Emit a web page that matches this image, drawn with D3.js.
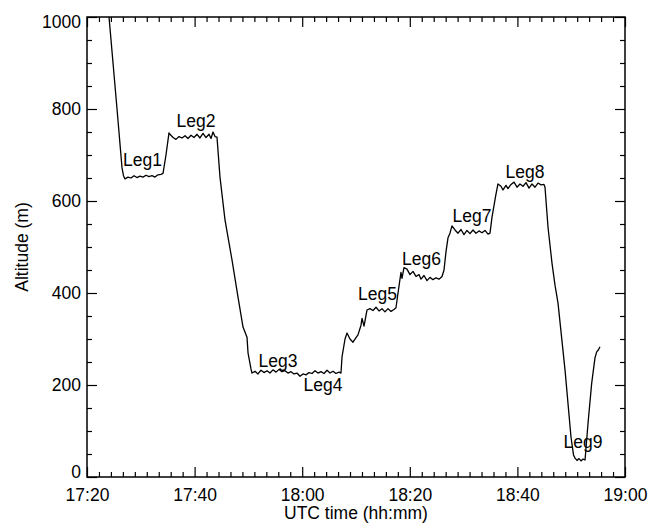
<!DOCTYPE html>
<html>
<head>
<meta charset="utf-8">
<script src="https://cdn.jsdelivr.net/npm/d3@7"></script>
<style>
  html, body { margin: 0; padding: 0; background: #fff; }
  svg { display: block; }
  text { font-family: "Liberation Sans", Arial, Helvetica, sans-serif; fill: #000; }
</style>
</head>
<body>
<svg id="chart" width="660" height="523"></svg>
<script>
// ---- data: minutes after 17:00 UTC, altitude in metres ----
const minutes = [
  23.90, 25.58, 26.51, 26.78, 27.06, 27.62, 28.18, 28.74, 29.29, 29.85, 30.41, 30.97, 31.52, 32.08, 32.64, 33.20, 33.75, 34.13,
  34.68, 35.24, 35.43,
  35.99, 36.54, 37.10, 37.66, 38.22, 38.77, 39.33, 39.89, 40.45, 41.00, 41.56, 42.12, 42.68, 43.05, 43.42, 43.79,
  44.16, 44.72, 45.65, 46.95, 48.07, 49.00, 49.74, 49.93, 50.48, 50.67,
  51.23, 51.78, 52.34, 52.90, 53.46, 54.01, 54.57, 55.13, 55.69, 56.25, 56.80, 57.36, 57.92, 58.48, 59.03, 59.59, 60.15, 60.71,
  61.26, 61.82, 62.38, 62.94, 63.49, 64.05, 64.61, 65.17, 65.72, 66.28, 66.84, 67.21,
  67.40, 67.96, 68.33, 68.88, 69.44, 70.00, 70.37, 70.93, 71.12, 71.49, 72.04,
  72.60, 73.16, 73.72, 74.28, 74.83, 75.39, 75.95, 76.51, 77.06, 77.43,
  77.81, 78.18, 78.36, 78.55, 78.92,
  79.48, 80.04, 80.59, 81.15, 81.71, 82.08, 82.64, 83.20, 83.75, 84.31, 84.87, 85.43, 85.99,
  86.36, 86.73, 87.10, 87.47, 87.84,
  88.40, 88.96, 89.52, 90.07, 90.63, 91.19, 91.75, 92.30, 92.86, 93.42, 93.98, 94.54, 94.91,
  95.28, 95.65, 96.02, 96.39,
  96.95, 97.32, 97.88, 98.25, 98.81, 99.37, 99.93, 100.48, 101.04, 101.60, 102.16, 102.71, 103.27, 103.83, 104.39, 104.94,
  105.13, 105.69, 106.43, 106.99, 107.55, 108.85, 109.96, 110.43, 110.71,
  111.08, 111.45, 111.82, 112.19, 112.57,
  113.18, 113.81, 114.42, 114.74, 115.04, 115.35
];
const altitude = [
  1026, 800, 672, 655, 648, 652, 650, 655, 651, 654, 652, 656, 653, 655, 652, 657, 658, 660,
  700, 748, 745,
  738, 734, 740, 737, 742, 736, 743, 738, 745, 737, 747, 738, 745, 736, 750, 740,
  739, 652, 559, 472, 391, 326, 304, 270, 235, 226,
  230, 224, 232, 227, 231, 226, 233, 228, 234, 229, 231, 226, 229, 224, 226, 219, 224, 222,
  227, 225, 231, 226, 229, 225, 232, 226, 230, 225, 228, 226,
  261, 300, 313, 300, 293, 303, 309, 330, 345, 328, 363,
  366, 362, 369, 361, 366, 359, 366, 360, 364, 368,
  400, 430, 445, 432, 455,
  452, 440, 447, 436, 440, 430, 438, 427, 434, 429, 433, 430, 436,
  450, 490, 520, 530, 546,
  537, 530, 538, 527, 536, 529, 537, 530, 535, 531, 536, 528, 530,
  565, 590, 615, 637,
  632, 624, 634, 627, 636, 641, 630, 637, 632, 640, 628, 637, 630, 639, 635, 636,
  630, 543, 465, 417, 378, 233, 87, 48, 41,
  36, 40, 35, 39, 37,
  124, 204, 259, 272, 276, 283
];

// leg annotations (minutes after 17:00, altitude of text baseline)
const legNames   = ["Leg1", "Leg2", "Leg3", "Leg4", "Leg5", "Leg6", "Leg7", "Leg8", "Leg9"];
const legMinutes = [30.32, 40.26, 55.50, 63.87, 74.00, 82.17, 91.56, 101.41, 112.19];
const legAlts    = [676, 760, 240, 188, 385, 461, 555, 650, 62];

// axes
const xTickLabels = ["17:20", "17:40", "18:00", "18:20", "18:40", "19:00"];
const yTickValues = [0, 200, 400, 600, 800, 1000];
const xTitle = "UTC time (hh:mm)";
const yTitle = "Altitude (m)";

// ---- layout ----
const W = 660, H = 523;
const margin = { left: 87, right: 35, top: 17, bottom: 46 };
const iw = W - margin.left - margin.right;
const ih = H - margin.top - margin.bottom;

const toDate = m => new Date(2000, 0, 1, 17, 0, 0, Math.round(m * 60000));
const parseHM = s => { const [h, mm] = s.split(":").map(Number); return new Date(2000, 0, 1, h, mm); };

const majorDates = xTickLabels.map(parseHM);
const minorDates = [];
for (let i = 0; i < majorDates.length - 1; i++) {
  const a = +majorDates[i], b = +majorDates[i + 1];
  for (let k = 1; k < 9; k++) minorDates.push(new Date(a + (b - a) * k / 9));
}
const yMinor = d3.range(0, 1001, 50).filter(v => v % 200 !== 0);

const x = d3.scaleTime().domain([majorDates[0], majorDates[majorDates.length - 1]]).range([0, iw]);
const y = d3.scaleLinear().domain([0, 1000]).range([ih, 0]);

const svg = d3.select("#chart");
const g = svg.append("g").attr("transform", `translate(${margin.left},${margin.top})`);

g.append("defs").append("clipPath").attr("id", "clip")
  .append("rect").attr("width", iw).attr("height", ih);

// data line
const pts = minutes.map((m, i) => ({ t: toDate(m), a: altitude[i] }));
g.append("path")
  .datum(pts)
  .attr("clip-path", "url(#clip)")
  .attr("fill", "none")
  .attr("stroke", "#000")
  .attr("stroke-width", 1.3)
  .attr("stroke-linejoin", "round")
  .attr("d", d3.line().x(d => x(d.t)).y(d => y(d.a)));

// axes helper
function styleAxis(sel) {
  sel.select(".domain").remove();
  sel.selectAll(".tick line").attr("stroke", "#000").attr("stroke-width", 1.2);
  sel.selectAll("text").attr("font-size", 17.5).attr("fill", "#000")
    .attr("font-family", "'Liberation Sans', Arial, Helvetica, sans-serif");
}

// bottom
g.append("g").attr("transform", `translate(0,${ih})`)
  .call(d3.axisBottom(x).tickValues(majorDates).tickSize(-10).tickPadding(11.5).tickFormat(d3.timeFormat("%H:%M")))
  .call(styleAxis);
g.append("g").attr("transform", `translate(0,${ih})`)
  .call(d3.axisBottom(x).tickValues(minorDates).tickSize(-5).tickFormat(""))
  .call(styleAxis);
// top
g.append("g")
  .call(d3.axisTop(x).tickValues(majorDates).tickSize(-10).tickFormat(""))
  .call(styleAxis);
g.append("g")
  .call(d3.axisTop(x).tickValues(minorDates).tickSize(-5).tickFormat(""))
  .call(styleAxis);
// left
const leftAx = g.append("g")
  .call(d3.axisLeft(y).tickValues(yTickValues).tickSize(-10).tickPadding(6).tickFormat(d3.format("d")))
  .call(styleAxis);
leftAx.selectAll(".tick text").attr("dy", d => d === 1000 ? "0.58em" : d === 0 ? "0em" : "0.34em");
g.append("g")
  .call(d3.axisLeft(y).tickValues(yMinor).tickSize(-5).tickFormat(""))
  .call(styleAxis);
// right
g.append("g").attr("transform", `translate(${iw},0)`)
  .call(d3.axisRight(y).tickValues(yTickValues).tickSize(-10).tickFormat(""))
  .call(styleAxis);
g.append("g").attr("transform", `translate(${iw},0)`)
  .call(d3.axisRight(y).tickValues(yMinor).tickSize(-5).tickFormat(""))
  .call(styleAxis);

// frame
g.append("rect").attr("width", iw).attr("height", ih)
  .attr("fill", "none").attr("stroke", "#000").attr("stroke-width", 1.5);

// leg labels
g.selectAll(".leg").data(legNames).enter().append("text")
  .attr("class", "leg")
  .attr("x", (d, i) => x(toDate(legMinutes[i])))
  .attr("y", (d, i) => y(legAlts[i]))
  .attr("text-anchor", "middle")
  .attr("font-size", 17.5)
  .text(d => d);

// titles
svg.append("text")
  .attr("x", margin.left + iw / 2)
  .attr("y", 519)
  .attr("text-anchor", "middle")
  .attr("font-size", 17.5)
  .text(xTitle);
svg.append("text")
  .attr("transform", `translate(28,${margin.top + ih / 2}) rotate(-90)`)
  .attr("text-anchor", "middle")
  .attr("font-size", 17.5)
  .text(yTitle);
</script>
</body>
</html>
